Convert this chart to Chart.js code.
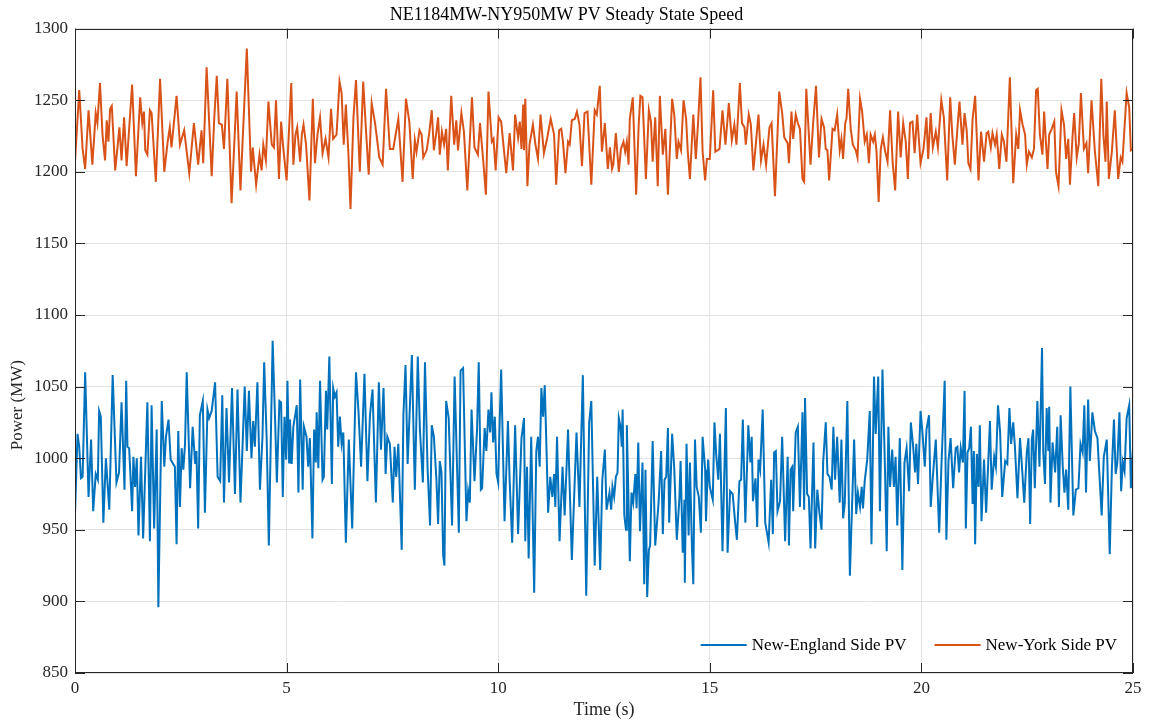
<!DOCTYPE html>
<html>
<head>
<meta charset="utf-8">
<script src="https://cdn.jsdelivr.net/npm/chart.js@4.4.1/dist/chart.umd.min.js"></script>
<style>
  html, body { margin: 0; padding: 0; background: #fff; }
  canvas { display: block; }
</style>
</head>
<body>
<canvas id="c" width="1151" height="723"></canvas>
<script>
// New-York side PV (upper trace), time in s and power in MW
const nyTime = [0.00,0.10,0.18,0.24,0.32,0.41,0.49,0.53,0.59,0.65,0.71,0.75,0.79,0.83,0.87,0.95,1.05,1.10,1.16,1.22,1.35,1.44,1.54,1.59,1.63,1.66,1.71,1.77,1.81,1.91,2.01,2.11,2.19,2.24,2.28,2.32,2.40,2.48,2.58,2.70,2.81,2.91,2.99,3.03,3.11,3.23,3.29,3.35,3.40,3.47,3.52,3.60,3.70,3.82,3.91,3.96,4.06,4.16,
  4.20,4.28,4.36,4.41,4.45,4.51,4.57,4.65,4.70,4.75,4.82,4.87,4.92,5.00,5.11,5.16,5.21,5.25,5.32,5.36,5.40,5.46,5.54,5.62,5.67,5.73,5.79,5.85,5.92,5.99,6.05,6.10,6.18,6.25,6.30,6.35,6.40,6.46,6.51,6.58,6.64,6.73,6.81,6.88,6.94,7.01,7.09,7.19,7.27,7.35,7.44,7.52,7.64,7.74,7.82,7.90,7.98,8.03,8.07,8.14,8.19,8.23,8.31,8.37,8.43,
  8.48,8.54,8.58,8.62,8.67,8.72,8.77,8.81,8.89,8.96,9.01,9.05,9.13,9.19,9.27,9.38,9.44,9.52,9.57,9.64,9.71,9.77,9.85,9.89,9.94,10.01,10.07,10.14,10.19,10.27,10.35,10.40,10.47,10.51,10.55,10.59,10.61,10.64,10.69,10.74,10.82,10.88,10.94,11.00,11.08,11.16,11.24,11.32,11.37,11.44,11.49,11.53,11.59,11.65,11.69,11.74,11.81,11.86,11.92,11.98,12.04,12.11,12.20,12.28,12.33,12.40,12.45,12.52,
  12.59,12.64,12.69,12.72,12.78,12.85,12.90,12.96,13.00,13.04,13.08,13.11,13.18,13.26,13.32,13.36,13.41,13.49,13.56,13.61,13.65,13.71,13.77,13.82,13.89,13.95,14.01,14.11,14.16,14.22,14.26,14.32,14.38,14.44,14.48,14.53,14.61,14.67,14.72,14.78,14.83,14.89,14.93,15.00,15.08,15.13,15.23,15.30,15.37,15.45,15.52,15.58,15.63,15.71,15.76,15.82,15.85,15.92,15.97,16.03,16.09,16.15,16.21,16.27,16.33,16.41,16.46,16.54,16.64,16.71,16.76,16.84,
  16.87,16.93,16.97,17.03,17.08,17.13,17.19,17.23,17.28,17.38,17.44,17.51,17.58,17.64,17.70,17.74,17.78,17.82,17.90,17.95,18.01,18.07,18.11,18.15,18.20,18.23,18.27,18.33,18.38,18.45,18.49,18.55,18.60,18.66,18.71,18.76,18.80,18.86,18.90,18.94,18.99,19.04,19.09,19.14,19.20,19.26,19.32,19.38,19.45,19.51,19.57,19.63,19.68,19.73,19.79,19.84,19.90,19.98,20.05,20.12,20.16,20.22,20.27,20.34,20.39,20.47,20.53,20.61,20.68,20.73,20.79,20.85,20.90,20.97,21.02,
  21.07,21.11,21.16,21.21,21.27,21.35,21.41,21.48,21.54,21.58,21.64,21.68,21.74,21.78,21.84,21.90,21.95,22.01,22.09,22.17,22.24,22.29,22.33,22.39,22.45,22.49,22.54,22.61,22.66,22.71,22.75,22.80,22.86,22.90,22.98,23.02,23.08,23.14,23.18,23.24,23.31,23.37,23.42,23.47,23.51,23.57,23.61,23.67,23.72,23.77,23.84,23.90,23.94,24.02,24.10,24.18,24.25,24.30,24.35,24.38,24.43,24.50,24.57,24.65,24.71,24.75,24.85,24.91,24.95,25.00];
const nyPower = [1207,1257,1216,1202,1243,1205,1241,1234,1262,1226,1208,1236,1221,1244,1246,1201,1231,1208,1238,1204,1261,1197,1252,1234,1242,1215,1212,1243,1241,1193,1265,1200,1221,1231,1217,1229,1253,1219,1229,1199,1234,1205,1229,1206,1273,1197,1237,1267,1234,1233,1216,1265,1178,1256,1187,1221,1286,1200,
  1217,1191,1212,1201,1219,1208,1249,1219,1217,1250,1195,1235,1217,1194,1262,1205,1226,1231,1207,1226,1233,1219,1180,1251,1206,1226,1238,1213,1223,1210,1244,1223,1226,1263,1255,1219,1247,1213,1174,1238,1264,1200,1263,1227,1198,1248,1234,1210,1205,1258,1216,1216,1237,1193,1251,1235,1195,1222,1214,1229,1226,1210,1215,1227,1243,
  1215,1228,1238,1212,1228,1219,1230,1201,1253,1219,1236,1215,1241,1228,1187,1252,1217,1212,1234,1210,1184,1256,1221,1223,1201,1238,1235,1214,1199,1227,1201,1240,1224,1235,1216,1247,1215,1251,1190,1219,1233,1219,1209,1240,1213,1224,1237,1226,1191,1229,1230,1221,1199,1221,1219,1236,1237,1242,1233,1204,1241,1242,1191,1243,1240,1260,1214,1234,
  1202,1217,1202,1205,1227,1200,1216,1221,1214,1221,1205,1237,1252,1184,1233,1253,1252,1195,1243,1235,1207,1238,1190,1253,1212,1230,1184,1251,1240,1209,1221,1215,1250,1237,1214,1195,1240,1209,1233,1266,1214,1194,1209,1209,1257,1214,1216,1243,1219,1248,1222,1233,1219,1262,1234,1231,1219,1240,1233,1201,1220,1240,1208,1219,1205,1231,1234,1183,1256,1241,1224,1220,
  1206,1242,1223,1240,1234,1230,1195,1193,1258,1205,1233,1260,1210,1237,1231,1216,1215,1194,1230,1229,1240,1215,1223,1209,1234,1237,1258,1230,1219,1215,1210,1251,1242,1221,1226,1206,1226,1221,1226,1214,1179,1216,1224,1215,1207,1243,1207,1187,1242,1210,1234,1221,1195,1234,1235,1213,1240,1206,1216,1238,1209,1241,1217,1228,1217,1250,1238,1194,1252,1226,1205,1230,1249,1219,1241,
  1229,1206,1202,1237,1253,1194,1228,1207,1227,1228,1217,1227,1219,1226,1202,1226,1221,1207,1266,1192,1226,1216,1243,1233,1226,1205,1214,1210,1216,1257,1258,1226,1212,1242,1202,1226,1230,1235,1200,1190,1243,1233,1209,1223,1191,1224,1241,1210,1220,1255,1216,1220,1199,1250,1214,1190,1265,1226,1207,1249,1195,1214,1243,1195,1210,1207,1255,1245,1215,1216];

// New-England side PV (lower trace)
const neTime = [0.00,0.06,0.10,0.14,0.18,0.24,0.32,0.38,0.43,0.49,0.54,0.57,0.61,0.67,0.73,0.81,0.89,0.98,1.04,1.10,1.17,1.21,1.24,1.28,1.35,1.38,1.42,1.46,1.50,1.56,1.61,1.71,1.77,1.81,1.87,1.93,1.97,2.05,2.11,2.15,2.21,2.26,2.36,2.40,2.44,2.48,2.52,2.56,2.60,2.64,2.72,2.78,2.84,2.87,2.91,2.95,3.02,3.07,3.13,3.17,3.23,3.31,3.37,3.43,3.48,3.52,3.58,3.64,3.71,3.78,3.84,3.91,4.01,4.06,4.11,4.17,
  4.21,4.25,4.31,4.37,4.43,4.47,4.53,4.58,4.67,4.73,4.77,4.83,4.87,4.91,4.95,4.99,5.02,5.06,5.08,5.12,5.16,5.24,5.28,5.32,5.38,5.41,5.47,5.51,5.55,5.61,5.65,5.69,5.71,5.75,5.79,5.85,5.88,5.93,5.96,6.01,6.07,6.10,6.14,6.18,6.22,6.26,6.30,6.34,6.40,6.47,6.55,6.64,6.70,6.76,6.84,6.91,6.97,7.03,7.11,7.18,7.23,7.29,7.34,7.38,7.44,7.51,7.55,7.59,7.64,7.72,7.76,7.81,7.86,7.96,8.03,8.10,8.15,8.22,8.27,8.33,8.39,8.43,
  8.48,8.54,8.58,8.62,8.66,8.70,8.73,8.77,8.83,8.91,8.97,9.07,9.11,9.17,9.25,9.29,9.33,9.37,9.44,9.50,9.54,9.59,9.62,9.68,9.72,9.77,9.81,9.84,9.88,9.92,9.96,10.00,10.03,10.07,10.15,10.23,10.27,10.33,10.40,10.47,10.55,10.61,10.64,10.68,10.72,10.78,10.85,10.90,10.94,10.98,11.02,11.06,11.10,11.14,11.18,11.23,11.28,11.32,11.35,11.39,11.45,11.52,11.57,11.65,11.74,11.85,11.92,12.00,12.08,12.15,12.20,12.28,12.34,12.41,12.46,12.52,12.56,12.63,
  12.67,12.70,12.74,12.78,12.82,12.85,12.89,12.92,12.94,12.98,13.02,13.04,13.11,13.15,13.19,13.24,13.27,13.31,13.35,13.41,13.45,13.48,13.52,13.56,13.59,13.65,13.71,13.79,13.85,13.89,13.93,13.97,14.01,14.04,14.11,14.16,14.22,14.28,14.31,14.36,14.40,14.41,14.45,14.50,14.53,14.58,14.61,14.65,14.69,14.74,14.79,14.83,14.89,14.91,14.96,15.00,15.07,15.11,15.15,15.20,15.24,15.30,15.38,15.42,15.48,15.54,15.60,15.64,15.70,15.74,15.78,15.84,15.91,15.96,15.99,16.02,16.08,16.12,16.15,16.19,16.25,16.31,16.39,16.45,16.49,16.52,16.56,16.60,16.66,16.71,16.78,16.84,
  16.87,16.91,16.95,16.97,17.03,17.08,17.13,17.19,17.23,17.25,17.30,17.34,17.38,17.45,17.49,17.54,17.59,17.64,17.68,17.74,17.78,17.83,17.88,17.92,17.96,18.01,18.07,18.11,18.15,18.19,18.25,18.31,18.41,18.46,18.50,18.55,18.59,18.62,18.66,18.72,18.78,18.82,18.88,18.92,18.98,19.02,19.08,19.14,19.18,19.22,19.26,19.31,19.35,19.39,19.43,19.49,19.55,19.60,19.65,19.71,19.75,19.80,19.85,19.88,19.92,19.98,20.02,20.08,20.12,20.18,20.22,20.27,20.34,20.42,20.47,20.55,20.59,20.64,20.69,20.75,20.81,20.85,20.89,20.93,20.98,21.02,
  21.05,21.09,21.13,21.17,21.21,21.24,21.27,21.31,21.35,21.38,21.42,21.48,21.53,21.62,21.66,21.72,21.76,21.81,21.86,21.91,21.98,22.03,22.08,22.12,22.17,22.21,22.27,22.33,22.37,22.43,22.49,22.53,22.57,22.61,22.64,22.68,22.74,22.79,22.85,22.88,22.92,22.96,23.00,23.02,23.05,23.10,23.16,23.21,23.25,23.29,23.34,23.38,23.42,23.47,23.52,23.59,23.65,23.71,23.76,23.81,23.85,23.89,23.94,23.98,24.04,24.10,24.16,24.20,24.26,24.31,24.38,24.45,24.50,24.55,24.59,24.63,24.68,24.72,24.76,24.80,24.85,24.91,24.95,25.00];
const nePower = [961,1017,1008,986,987,1060,973,1013,963,989,985,1033,1029,955,1000,964,1058,983,990,1039,978,1054,1008,1007,963,1001,980,1000,946,1001,944,1039,942,1037,951,1020,896,1040,994,1015,1027,999,994,940,1019,966,1007,992,1010,1060,979,1022,996,1005,951,1030,1040,962,1034,1028,1033,1053,987,984,1044,969,1035,983,1049,975,1048,969,1050,1005,1047,1000,
  1026,1008,1053,978,1015,1067,1013,939,1082,1025,983,1040,1039,973,1029,999,1054,997,1027,996,1022,1037,976,1055,978,1022,1015,994,1014,944,1020,997,1032,993,1054,985,987,1047,1020,1071,982,1049,1043,1046,1008,1029,1010,1018,941,1013,951,1060,1032,994,1059,984,1030,1048,969,1053,1006,1049,989,1015,1010,969,1008,987,1010,936,1030,1065,996,1072,978,1071,1020,983,1067,994,953,1023,
  1015,985,954,998,990,932,925,1040,1028,953,1057,948,1061,1063,956,977,969,1034,984,1020,1067,978,979,1021,1005,1034,1018,1046,1011,1029,989,983,1020,1062,956,1026,985,941,1023,947,1014,1028,942,994,930,1015,906,1005,1015,994,1049,1029,1051,1008,962,987,973,989,966,1015,942,994,960,1020,929,1018,966,1058,904,1025,1040,925,987,922,985,1006,964,976,
  964,980,973,987,990,1028,1022,1008,1034,960,950,1023,928,976,969,989,965,1011,949,997,912,992,903,936,939,1012,939,969,1005,947,985,987,1021,955,1017,993,943,971,998,934,971,913,1010,946,997,936,912,1013,980,973,948,1015,992,956,999,980,971,1025,1003,985,1017,935,1035,934,977,975,955,943,984,985,1027,955,1023,997,1015,970,986,952,999,992,1034,955,941,985,947,1004,1005,963,970,1015,942,1001,
  939,992,994,963,1018,1022,966,1032,964,1042,975,973,937,1011,937,978,962,950,998,1025,989,987,978,1022,985,1015,969,1013,958,969,1040,918,1013,961,976,966,980,965,984,999,1033,940,1057,1017,1057,963,1062,992,935,1022,980,1006,980,1001,953,1014,922,997,1007,977,1025,1010,990,1010,982,1033,1020,994,1020,1030,966,987,1013,948,992,1054,943,998,1014,979,1007,1008,990,1007,997,1047,
  951,1004,1007,1022,968,1005,940,1003,980,1023,956,999,962,1026,978,1001,994,1037,1018,973,998,996,1035,1010,1025,1008,972,1014,997,969,1004,1014,954,1013,1020,979,1040,994,1077,1004,982,1035,1005,1036,969,1011,990,1022,966,1030,994,976,992,964,1050,960,978,979,1010,1004,1037,976,1041,998,1032,1019,1014,992,960,1001,1013,933,992,1027,989,997,1032,977,997,991,1028,1037,979,1007];

const seriesLabels = ['New-England Side PV', 'New-York Side PV'];
const seriesColors = ['#0072BD', '#D95319'];
const xTicks = [0, 5, 10, 15, 20, 25];
const yTicks = [850, 900, 950, 1000, 1050, 1100, 1150, 1200, 1250, 1300];
const yTitle = 'Power (MW)';

const serif = '"Liberation Serif", "Times New Roman", serif';
const axisColor = '#262626';

// MATLAB style box: frame on all sides, inward ticks, y label, legend inside lower right
const matlabBox = {
    id: 'matlabBox',
    afterDraw(chart) {
        const ctx = chart.ctx;
        const a = chart.chartArea;
        const xs = chart.scales.x;
        const ys = chart.scales.y;
        ctx.save();
        ctx.strokeStyle = axisColor;
        ctx.lineWidth = 1;
        ctx.beginPath();
        xTicks.forEach(v => {
            const px = Math.round(xs.getPixelForValue(v)) + 0.5;
            ctx.moveTo(px, a.bottom); ctx.lineTo(px, a.bottom - 10);
            ctx.moveTo(px, a.top); ctx.lineTo(px, a.top + 10);
        });
        yTicks.forEach(v => {
            const py = Math.round(ys.getPixelForValue(v)) + 0.5;
            ctx.moveTo(a.left, py); ctx.lineTo(a.left + 10, py);
            ctx.moveTo(a.right, py); ctx.lineTo(a.right - 10, py);
        });
        ctx.stroke();
        ctx.strokeRect(Math.round(a.left) + 0.5, Math.round(a.top) + 0.5,
                       Math.round(a.width) - 1, Math.round(a.height) - 1);

        // y axis label, sits a little below the middle as in the figure
        ctx.save();
        ctx.translate(18, ys.getPixelForValue(1037));
        ctx.rotate(-Math.PI / 2);
        ctx.font = '17px ' + serif;
        ctx.fillStyle = axisColor;
        ctx.textAlign = 'center';
        ctx.textBaseline = 'middle';
        ctx.fillText(yTitle, 0, 0);
        ctx.restore();

        // legend, laid out from the right edge
        ctx.font = '17px ' + serif;
        ctx.textBaseline = 'middle';
        const lineLen = 46, gap = 5, itemGap = 28;
        const ds = chart.data.datasets;
        const widths = ds.map(d => ctx.measureText(d.label).width);
        let total = 0;
        widths.forEach((w, i) => { total += lineLen + gap + w + (i ? itemGap : 0); });
        let lx = a.right - 16 - total;
        const ly = a.bottom - 28;
        ds.forEach((d, i) => {
            if (i) lx += itemGap;
            ctx.strokeStyle = d.borderColor;
            ctx.lineWidth = 2;
            ctx.beginPath();
            ctx.moveTo(lx, ly); ctx.lineTo(lx + lineLen, ly);
            ctx.stroke();
            lx += lineLen + gap;
            ctx.fillStyle = '#000';
            ctx.fillText(d.label, lx, ly + 1);
            lx += widths[i];
        });
        ctx.restore();
    }
};

const datasets = [
    { label: seriesLabels[0], data: neTime.map((t, i) => ({ x: t, y: nePower[i] })), borderColor: seriesColors[0] },
    { label: seriesLabels[1], data: nyTime.map((t, i) => ({ x: t, y: nyPower[i] })), borderColor: seriesColors[1] }
];

new Chart(document.getElementById('c'), {
    type: 'line',
    data: { datasets: datasets },
    options: {
        responsive: false,
        animation: false,
        devicePixelRatio: 1,
        layout: { padding: { right: 18 } },
        elements: {
            point: { radius: 0 },
            line: { borderWidth: 2, tension: 0, fill: false }
        },
        scales: {
            x: {
                type: 'linear',
                min: 0,
                max: 25,
                afterBuildTicks: s => { s.ticks = xTicks.map(v => ({ value: v })); },
                afterFit: s => { s.height = 50; },
                grid: { color: '#e3e3e3', drawTicks: false },
                border: { display: false },
                ticks: { padding: 5, color: axisColor, callback: v => String(v), font: { family: serif, size: 17 } },
                title: { display: true, text: 'Time (s)', color: axisColor, padding: { top: 0, bottom: 2 }, font: { family: serif, size: 18 } }
            },
            y: {
                min: 850,
                max: 1300,
                afterBuildTicks: s => { s.ticks = yTicks.map(v => ({ value: v })); },
                afterFit: s => { s.width = 75; },
                grid: { color: '#e3e3e3', drawTicks: false },
                border: { display: false },
                ticks: { padding: 7, color: axisColor, callback: v => String(v), font: { family: serif, size: 17 } }
            }
        },
        plugins: {
            legend: { display: false },
            tooltip: { enabled: false },
            title: {
                display: true,
                text: 'NE1184MW-NY950MW PV Steady State Speed',
                color: '#000',
                padding: { top: 4, bottom: 3 },
                font: { family: serif, size: 18, weight: 'normal' }
            }
        }
    },
    plugins: [matlabBox]
});
</script>
</body>
</html>
